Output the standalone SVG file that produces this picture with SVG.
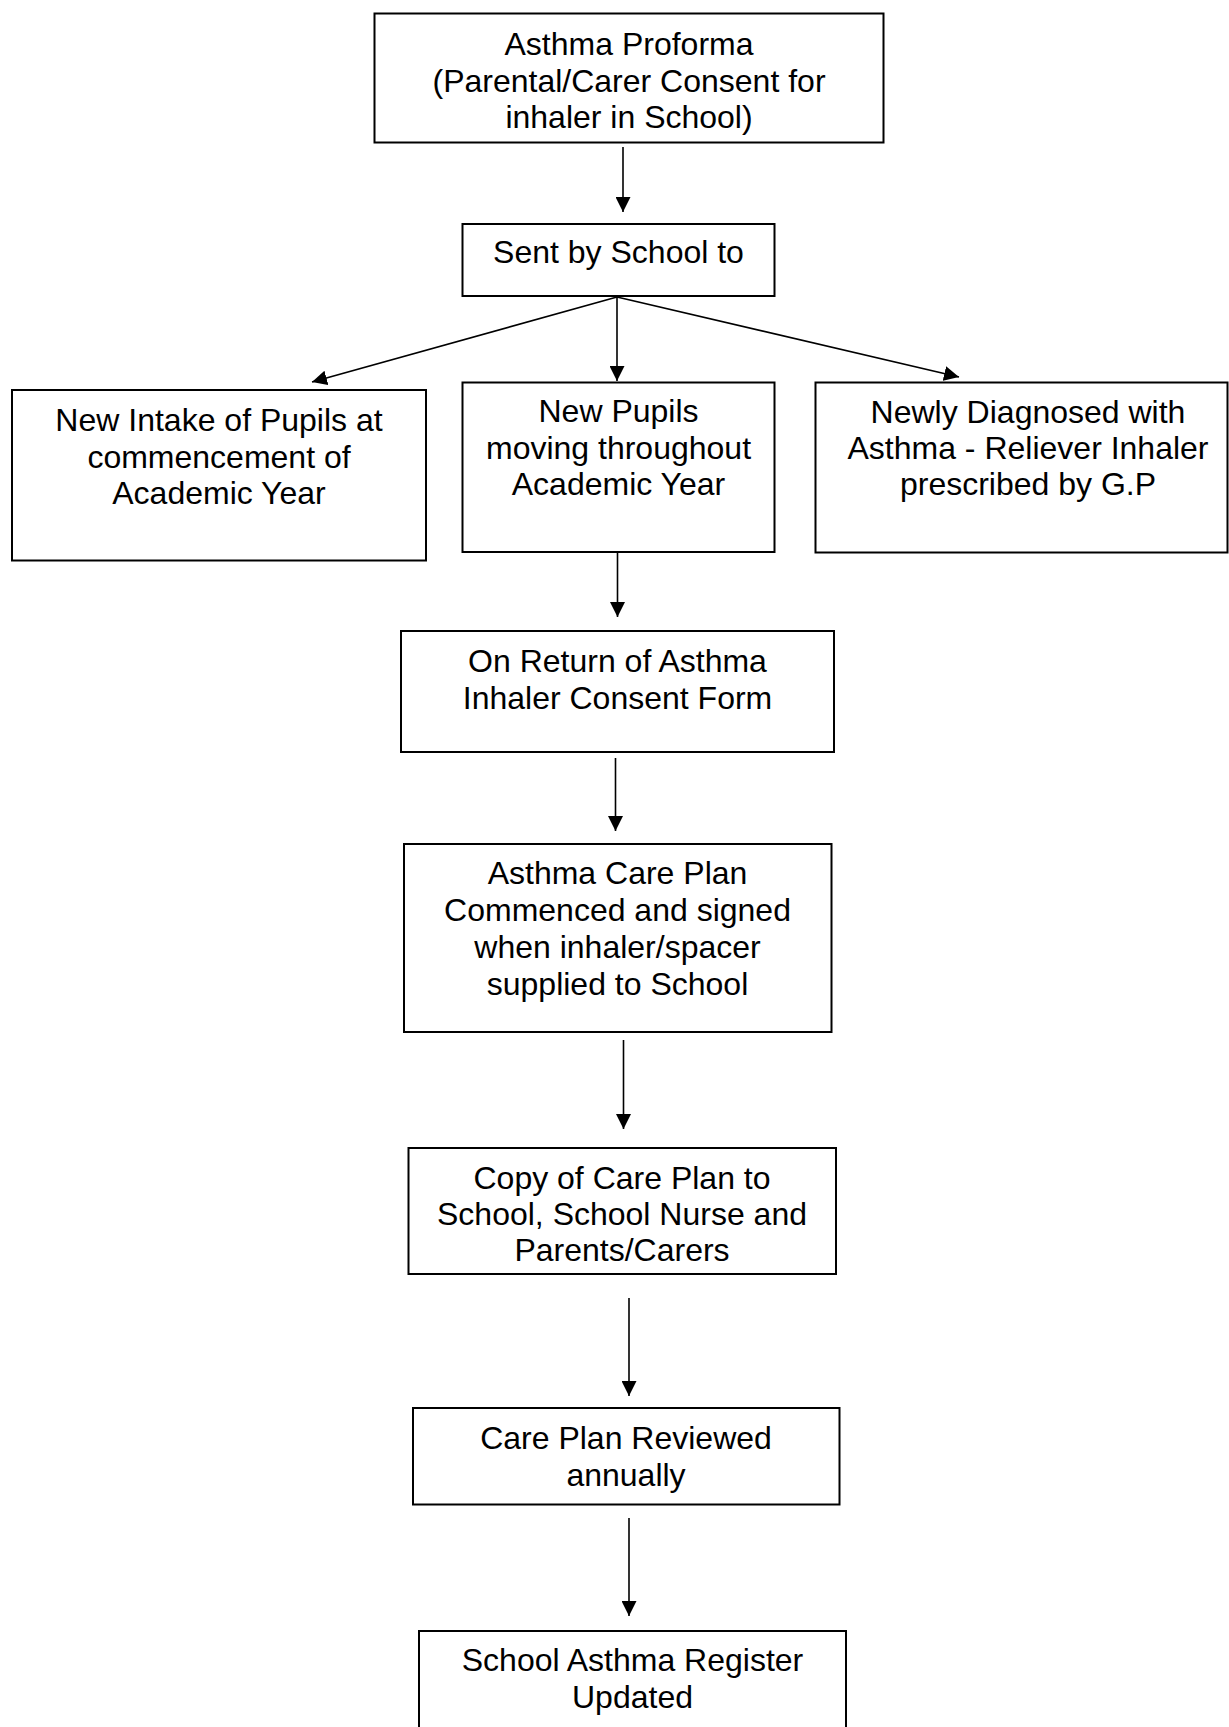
<svg xmlns="http://www.w3.org/2000/svg" width="1229" height="1727" viewBox="0 0 1229 1727">
<style>
.box{fill:#fff;stroke:#000;stroke-width:2}
.t{font-family:"Liberation Sans",Arial,sans-serif;font-size:32px;fill:#000;text-anchor:middle}
.c{stroke:#000;stroke-width:1.6;fill:none;marker-end:url(#ah)}
</style>
<defs>
<marker id="ah" viewBox="0 0 15 15" markerWidth="15" markerHeight="15" refX="15" refY="7.5" orient="auto" markerUnits="userSpaceOnUse">
<path d="M0,0 L15,7.5 L0,15 z" fill="#000"/>
</marker>
</defs>
<rect width="1229" height="1727" fill="#fff"/>
<g id="connectors">
<line class="c" x1="623" y1="147" x2="623" y2="212"/>
<line class="c" x1="617" y1="297" x2="312" y2="382"/>
<line class="c" x1="617" y1="297" x2="617" y2="381"/>
<line class="c" x1="617" y1="297" x2="959" y2="377"/>
<line class="c" x1="617.5" y1="552" x2="617.5" y2="617"/>
<line class="c" x1="615.5" y1="758" x2="615.5" y2="831"/>
<line class="c" x1="623.5" y1="1040" x2="623.5" y2="1129"/>
<line class="c" x1="629" y1="1298" x2="629" y2="1396"/>
<line class="c" x1="629" y1="1518" x2="629" y2="1616"/>
</g>
<g id="n1">
<rect class="box" x="374.5" y="13.5" width="509" height="129"/>
<text class="t" x="629" y="54.5">Asthma Proforma</text>
<text class="t" x="629" y="91.5">(Parental/Carer Consent for</text>
<text class="t" x="629" y="128">inhaler in School)</text>
</g>
<g id="n2">
<rect class="box" x="462.5" y="224" width="312" height="72"/>
<text class="t" x="618.5" y="263">Sent by School to</text>
</g>
<g id="n3">
<rect class="box" x="12" y="390" width="414" height="170.5"/>
<text class="t" x="219" y="431">New Intake of Pupils at</text>
<text class="t" x="219" y="467.5">commencement of</text>
<text class="t" x="219" y="504">Academic Year</text>
</g>
<g id="n4">
<rect class="box" x="462.5" y="382.5" width="312" height="169.5"/>
<text class="t" x="618.5" y="422">New Pupils</text>
<text class="t" x="618.5" y="459">moving throughout</text>
<text class="t" x="618.5" y="495">Academic Year</text>
</g>
<g id="n5">
<rect class="box" x="815.5" y="382.5" width="412" height="170"/>
<text class="t" x="1028" y="422.5">Newly Diagnosed with</text>
<text class="t" x="1028" y="459">Asthma - Reliever Inhaler</text>
<text class="t" x="1028" y="495">prescribed by G.P</text>
</g>
<g id="n6">
<rect class="box" x="401" y="631" width="433" height="121"/>
<text class="t" x="617.5" y="671.5">On Return of Asthma</text>
<text class="t" x="617.5" y="708.5">Inhaler Consent Form</text>
</g>
<g id="n7">
<rect class="box" x="404" y="844" width="427.5" height="188"/>
<text class="t" x="617.5" y="883.5">Asthma Care Plan</text>
<text class="t" x="617.5" y="920.5">Commenced and signed</text>
<text class="t" x="617.5" y="957.5">when inhaler/spacer</text>
<text class="t" x="617.5" y="995">supplied to School</text>
</g>
<g id="n8">
<rect class="box" x="408.5" y="1148" width="427.5" height="126"/>
<text class="t" x="622" y="1189">Copy of Care Plan to</text>
<text class="t" x="622" y="1225">School, School Nurse and</text>
<text class="t" x="622" y="1261">Parents/Carers</text>
</g>
<g id="n9">
<rect class="box" x="413" y="1408" width="426.5" height="96.5"/>
<text class="t" x="626" y="1449">Care Plan Reviewed</text>
<text class="t" x="626" y="1486">annually</text>
</g>
<g id="n10">
<rect class="box" x="419" y="1631" width="427" height="120"/>
<text class="t" x="632.5" y="1670.5">School Asthma Register</text>
<text class="t" x="632.5" y="1708">Updated</text>
</g>
</svg>
